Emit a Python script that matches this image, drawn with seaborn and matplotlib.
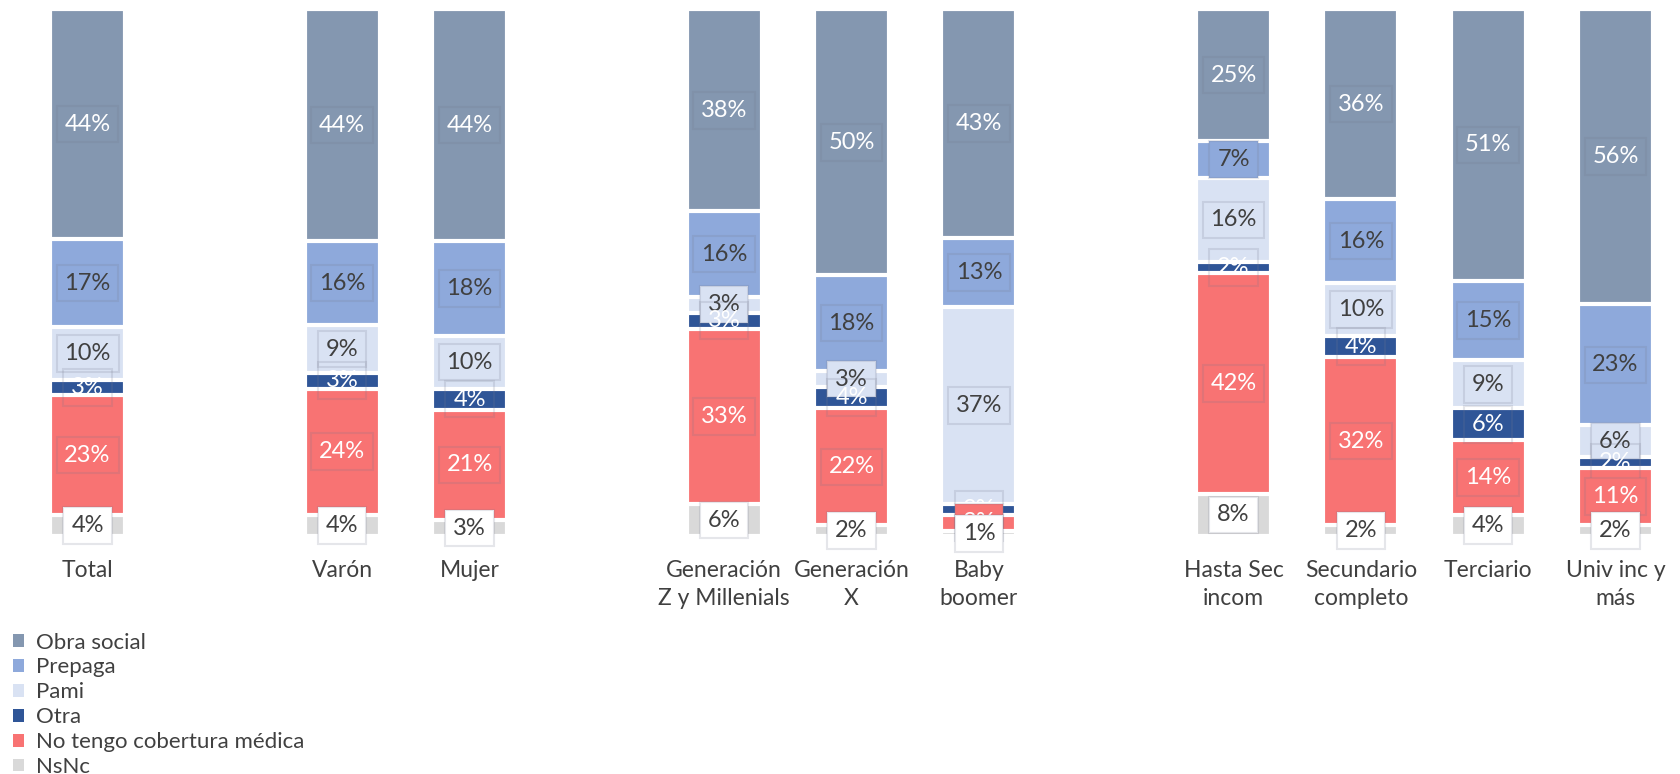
import matplotlib.pyplot as plt
import numpy as np
import pandas as pd
import seaborn as sns
from matplotlib.patches import Patch

# categorías (con huecos entre grupos)
orden = ["Total", "_g1", "Varón", "Mujer", "_g2",
         "Generación\nZ y Millenials", "Generación\nX", "Baby\nboomer", "_g3",
         "Hasta Sec\nincom", "Secundario\ncompleto", "Terciario", "Univ inc y\nmás"]
categorias = [c for c in orden if not c.startswith("_")]

series = ["Obra social", "Prepaga", "Pami", "Otra", "No tengo cobertura médica", "NsNc"]
obra_social = [44, 44, 44, 38, 50, 43, 25, 36, 51, 56]
prepaga = [17, 16, 18, 16, 18, 13, 7, 16, 15, 23]
pami = [10, 9, 10, 3, 3, 37, 16, 10, 9, 6]
otra = [3, 3, 4, 3, 4, 2, 2, 4, 6, 2]
sin_cobertura = [23, 24, 21, 33, 22, 3, 42, 32, 14, 11]
nsnc = [4, 4, 3, 6, 2, 1, 8, 2, 4, 2]

colores = ["#8497B0", "#8EA9DB", "#D9E2F3", "#2F5597", "#F87373", "#D9D9D9"]
color_texto = ["white", "#404040", "#404040", "white", "white", "#404040"]
fondo_etiqueta = ["#8497B0", "#8EA9DB", "#D9E2F3", "none", "#F87373", "white"]

sns.set_style("white")
plt.rcParams["font.family"] = ["Lato", "DejaVu Sans"]

df = pd.DataFrame(
    dict(zip(series, [obra_social, prepaga, pami, otra, sin_cobertura, nsnc])),
    index=categorias,
)
shares = df.div(df.sum(axis=1), axis=0)
# acumulado desde abajo (NsNc abajo, Obra social arriba)
tops = shares[series[::-1]].cumsum(axis=1)[series]

fig, ax = plt.subplots(figsize=(16.8, 7.74), dpi=100)
fig.subplots_adjust(left=0.0142, right=0.9995, top=0.988, bottom=0.3075)

for i, s in enumerate(series):
    d = pd.DataFrame({"cat": categorias, "top": tops[s].values})
    sns.barplot(data=d, x="cat", y="top", order=orden, color=colores[i],
                width=0.59, edgecolor="white", linewidth=3, saturation=1, ax=ax)

pos = {c: orden.index(c) for c in categorias}
for i, s in enumerate(series):
    for c in categorias:
        mid = tops.loc[c, s] - shares.loc[c, s] / 2
        ax.text(pos[c], mid, f"{df.loc[c, s]}%", ha="center", va="center",
                fontsize=17, color=color_texto[i], zorder=5,
                bbox=dict(boxstyle="square,pad=0.33", facecolor=fondo_etiqueta[i],
                          edgecolor=(0.45, 0.47, 0.55, 0.18), linewidth=1.5))

ax.set_ylim(0, 1)
ax.set_xlim(-0.5, len(orden) - 0.5)
ax.set_yticks([])
ax.set_xticks(range(len(orden)))
ax.set_xticklabels(["" if c.startswith("_") else c for c in orden],
                   fontsize=16.5, color="#404040", linespacing=1.45)
ax.tick_params(axis="x", length=0, pad=17)
ax.set_xlabel("")
ax.set_ylabel("")
sns.despine(ax=ax, left=True, bottom=True)

handles = [Patch(facecolor=colores[i], edgecolor="none", label=s) for i, s in enumerate(series)]
fig.legend(handles=handles, loc="upper left", bbox_to_anchor=(0.0, 0.2),
           frameon=False, fontsize=16, labelcolor="#404040",
           handlelength=0.5, handleheight=0.5, handletextpad=0.5,
           labelspacing=0.22, borderaxespad=0.2)

fig.savefig("out.png", dpi=100)
